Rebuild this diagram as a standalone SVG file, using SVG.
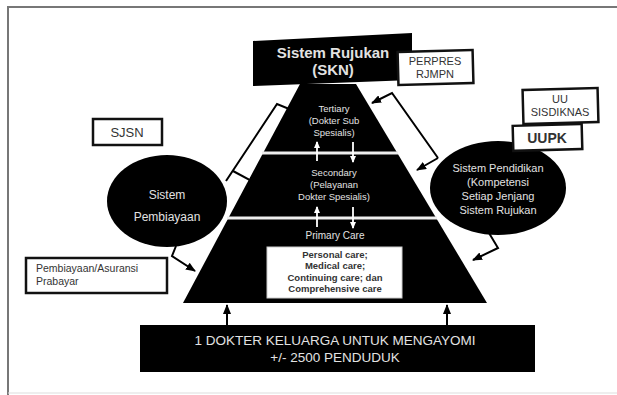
<svg xmlns="http://www.w3.org/2000/svg" width="617" height="395" viewBox="0 0 617 395">
<defs>
<marker id="ah" markerWidth="10" markerHeight="8" refX="9" refY="4" orient="auto" markerUnits="userSpaceOnUse"><path d="M0,0 L10,4 L0,8 Z" fill="#000"/></marker>
<marker id="wh" markerWidth="7" markerHeight="6" refX="6" refY="3" orient="auto" markerUnits="userSpaceOnUse"><path d="M0,0 L7,3 L0,6 Z" fill="#fff"/></marker>
<style>
text{font-family:"Liberation Sans",Arial,sans-serif}
.lt{fill:#e2e2e2;text-anchor:middle}
.dk{fill:#333;text-anchor:middle}
.dl{fill:#333;text-anchor:start}
.box{fill:#fff;stroke:#111;stroke-width:2.5}
.con{fill:none;stroke:#000;stroke-width:2;marker-end:url(#ah)}
.wa{stroke:#fff;stroke-width:1.8;marker-end:url(#wh)}
</style>
</defs>
<rect width="617" height="395" fill="#fff"/>
<g id="frame" stroke="#777" stroke-width="2" fill="none">
<line x1="7" y1="7" x2="617" y2="7"/>
<line x1="8" y1="7" x2="8" y2="395"/>
<line x1="8" y1="393" x2="617" y2="393" stroke="#ddd" stroke-width="1"/>
</g>
<g id="pyramid">
<polygon points="183,303 487,303 356,84 300,84" fill="#000"/>
<line x1="262" y1="153" x2="398" y2="153" stroke="#eee" stroke-width="3"/>
<line x1="227" y1="218" x2="437" y2="218" stroke="#eee" stroke-width="3"/>
<text class="lt" x="334" y="112" font-size="9.5">Tertiary</text>
<text class="lt" x="334" y="124" font-size="9.5">(Dokter Sub</text>
<text class="lt" x="334" y="136" font-size="9.5">Spesialis)</text>
<text class="lt" x="334" y="176" font-size="9.5">Secondary</text>
<text class="lt" x="334" y="188" font-size="9.5">(Pelayanan</text>
<text class="lt" x="334" y="200" font-size="9.5">Dokter Spesialis)</text>
<text class="lt" x="335" y="239" font-size="10">Primary Care</text>
<line class="wa" x1="317" y1="161" x2="317" y2="142"/>
<line class="wa" x1="353" y1="142" x2="353" y2="162"/>
<line class="wa" x1="317" y1="227" x2="317" y2="207"/>
<line class="wa" x1="353" y1="207" x2="353" y2="228"/>
</g>
<g id="primary-box">
<rect x="267" y="247" width="135" height="51" fill="#fff" stroke="#ccc" stroke-width="1"/>
<text class="dk" x="335" y="258" font-size="9.5" font-weight="bold" fill="#222">Personal care;</text>
<text class="dk" x="335" y="269" font-size="9.5" font-weight="bold" fill="#222">Medical care;</text>
<text class="dk" x="335" y="281" font-size="9.5" font-weight="bold" fill="#222">Continuing care; dan</text>
<text class="dk" x="335" y="292" font-size="9.5" font-weight="bold" fill="#222">Comprehensive care</text>
</g>
<g id="skn">
<polygon points="253,41 412,33 412,80 253,86" fill="#000"/>
<text class="lt" x="333" y="58" font-size="15" font-weight="bold" fill="#eee">Sistem Rujukan</text>
<text class="lt" x="333" y="75" font-size="15" font-weight="bold" fill="#eee">(SKN)</text>
</g>
<g id="perpres">
<rect class="box" x="398" y="51" width="75" height="33" transform="rotate(-1.5 435 67)"/>
<text class="dk" x="435" y="65" font-size="11">PERPRES</text>
<text class="dk" x="435" y="78" font-size="11">RJMPN</text>
</g>
<g id="sjsn">
<rect class="box" x="93" y="119" width="69" height="26"/>
<text class="dk" x="127" y="137" font-size="13">SJSN</text>
</g>
<g id="pembiayaan">
<ellipse cx="167" cy="201" rx="60" ry="46" fill="#000"/>
<text class="lt" x="167" y="199" font-size="12">Sistem</text>
<text class="lt" x="167" y="221" font-size="12">Pembiayaan</text>
</g>
<g id="asuransi">
<rect class="box" x="26" y="258" width="141" height="35"/>
<text class="dl" x="36" y="272" font-size="10.5">Pembiayaan/Asuransi</text>
<text class="dl" x="36" y="285" font-size="10.5">Prabayar</text>
</g>
<g id="pendidikan">
<ellipse cx="498" cy="188" rx="68" ry="47" fill="#000"/>
<text class="lt" x="498" y="172" font-size="11">Sistem Pendidikan</text>
<text class="lt" x="498" y="186" font-size="11">(Kompetensi</text>
<text class="lt" x="498" y="200" font-size="11">Setiap Jenjang</text>
<text class="lt" x="498" y="214" font-size="11">Sistem Rujukan</text>
</g>
<g id="sisdiknas">
<rect class="box" x="523" y="89" width="75" height="34" transform="rotate(-1.5 560 106)"/>
<text class="dk" x="560" y="103" font-size="11">UU</text>
<text class="dk" x="560" y="116" font-size="11">SISDIKNAS</text>
</g>
<g id="uupk">
<rect class="box" x="513" y="125" width="69" height="25" transform="rotate(-1.5 547 138)"/>
<text class="dk" x="547" y="143" font-size="14" font-weight="bold">UUPK</text>
</g>
<g id="dokter">
<rect x="140" y="325" width="395" height="47" fill="#000"/>
<text class="lt" x="335" y="345" font-size="13.5">1 DOKTER KELUARGA UNTUK MENGAYOMI</text>
<text class="lt" x="335" y="362" font-size="13.5">+/- 2500 PENDUDUK</text>
</g>
<g id="connectors">
<path class="con" d="M226,181 L277,104 L299,113"/>
<path class="con" d="M233,171 L257,184"/>
<path class="con" d="M176,246 L172,256 L195,271"/>
<path class="con" d="M438,158 L392,93 L372,103"/>
<path class="con" d="M438,158 L417,170"/>
<path class="con" d="M489,233 L498,248 L473,260"/>
<path class="con" d="M227,325 L227,305"/>
<path class="con" d="M447,325 L447,305"/>
</g>
</svg>
